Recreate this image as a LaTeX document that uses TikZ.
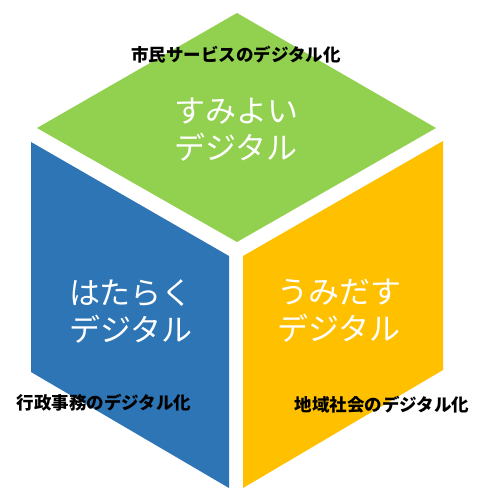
\documentclass[tikz,border=0pt]{standalone}
\usepackage{fontspec}
\newfontfamily\cjk{Noto Sans CJK JP}
\definecolor{facegreen}{HTML}{92D050}
\definecolor{faceblue}{HTML}{2E75B6}
\definecolor{faceyellow}{HTML}{FFC000}
\tikzset{
  facetext/.style={text=white, align=center, inner sep=0pt, font=\cjk\fontsize{31}{37}\selectfont},
  labeltext/.style={text=black, inner sep=0pt, font=\cjk\bfseries\fontsize{17.5}{20}\selectfont}
}
\begin{document}
\begin{tikzpicture}[x=1pt,y=-1pt]
\useasboundingbox (0,0) rectangle (482,488);
\fill[white] (0,0) rectangle (482,488);
% faces
\fill[facegreen] (237,13) -- (436,128) -- (237,242) -- (37,128) -- cycle;
\fill[faceblue] (31,142) -- (229,256) -- (229,488) -- (31,372) -- cycle;
\fill[faceyellow] (243,256) -- (443,141) -- (443,370) -- (243,488) -- cycle;
% face texts
\node[facetext] (top) at (236,130) {すみよい\\デジタル};
\node[facetext] (left) at (131,311) {はたらく\\デジタル};
\node[facetext] (right) at (339,311) {うみだす\\デジタル};
% labels
\node[labeltext] (ltop) at (236,55) {市民サービスのデジタル化};
\node[labeltext] (lleft) at (104,403) {行政事務のデジタル化};
\node[labeltext] (lright) at (382,405) {地域社会のデジタル化};
\end{tikzpicture}
\end{document}
